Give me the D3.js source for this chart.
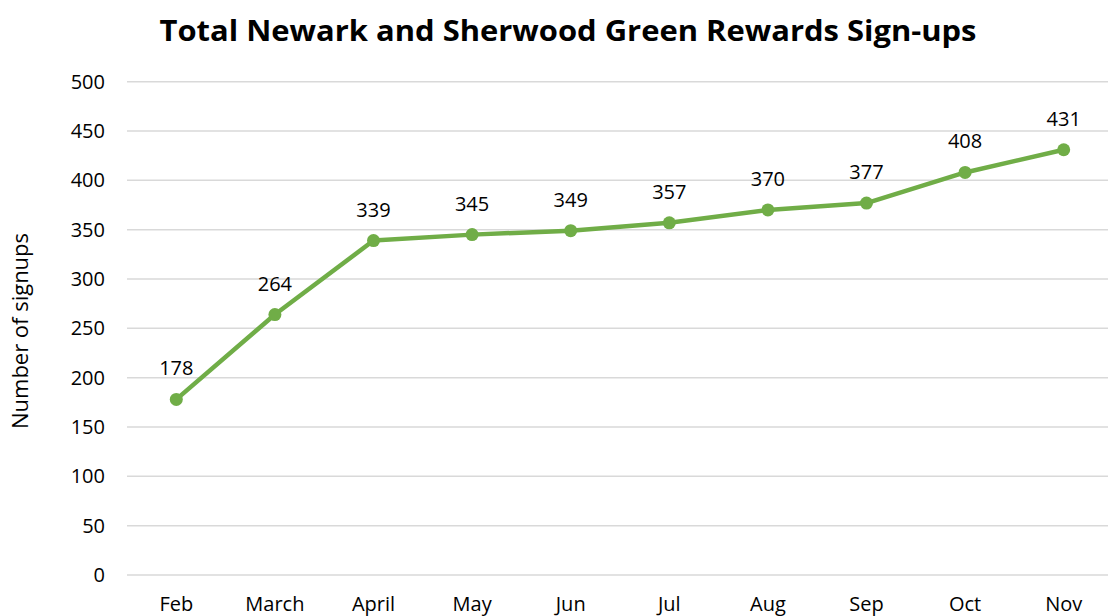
<!DOCTYPE html>
<html>
<head>
<meta charset="utf-8">
<script src="https://cdn.jsdelivr.net/npm/d3@7"></script>
<style>
  body { margin: 0; background: #fff; }
  text { font-family: "Open Sans", "Noto Sans", sans-serif; }
</style>
</head>
<body>
<div id="chart"></div>
<script>
// data
const months = ["Feb", "March", "April", "May", "Jun", "Jul", "Aug", "Sep", "Oct", "Nov"];
const signups = [178, 264, 339, 345, 349, 357, 370, 377, 408, 431];
const yTicks = [0, 50, 100, 150, 200, 250, 300, 350, 400, 450, 500];

const W = 1108, H = 616;
const plot = { left: 127, right: 1113, top: 81.7, bottom: 575 };

const svg = d3.select("#chart")
  .append("svg")
  .attr("width", W)
  .attr("height", H);

// title
svg.append("text")
  .attr("x", 568)
  .attr("y", 41)
  .attr("text-anchor", "middle")
  .attr("font-size", "29px")
  .attr("font-weight", "bold")
  .attr("textLength", 817)
  .attr("lengthAdjust", "spacingAndGlyphs")
  .text("Total Newark and Sherwood Green Rewards Sign-ups");

const x = d3.scaleBand()
  .domain(months)
  .range([plot.left, plot.right]);

const y = d3.scaleLinear()
  .domain([0, 500])
  .range([plot.bottom, plot.top]);

// gridlines
svg.append("g")
  .selectAll("line")
  .data(yTicks)
  .join("line")
  .attr("x1", plot.left)
  .attr("x2", plot.right)
  .attr("y1", d => y(d))
  .attr("y2", d => y(d))
  .attr("stroke", "#d9d9d9")
  .attr("stroke-width", 1.5);

// y axis labels
const yAxis = svg.append("g")
  .attr("transform", `translate(${plot.left - 22},0)`)
  .call(d3.axisLeft(y).tickValues(yTicks).tickSize(0).tickPadding(0));
yAxis.select(".domain").remove();
yAxis.selectAll("text")
  .attr("font-size", "20px")
  .attr("fill", "#000")
  .attr("font-family", "Open Sans, sans-serif");

// x axis labels
const xAxis = svg.append("g")
  .attr("transform", `translate(0,${plot.bottom})`)
  .call(d3.axisBottom(x).tickSize(0).tickPadding(22));
xAxis.select(".domain").remove();
xAxis.selectAll("text")
  .attr("font-size", "20px")
  .attr("fill", "#000")
  .attr("font-family", "Open Sans, sans-serif");

// y axis title
svg.append("text")
  .attr("transform", `translate(28,331) rotate(-90)`)
  .attr("text-anchor", "middle")
  .attr("font-size", "21px")
  .attr("textLength", 196)
  .attr("lengthAdjust", "spacingAndGlyphs")
  .text("Number of signups");

const cx = d => x(d) + x.bandwidth() / 2;

// line
const line = d3.line()
  .x((d, i) => cx(months[i]))
  .y(d => y(d));

svg.append("path")
  .datum(signups)
  .attr("d", line)
  .attr("fill", "none")
  .attr("stroke", "#70ad47")
  .attr("stroke-width", 4.5)
  .attr("stroke-linejoin", "round");

// markers
svg.append("g")
  .selectAll("circle")
  .data(signups)
  .join("circle")
  .attr("cx", (d, i) => cx(months[i]))
  .attr("cy", d => y(d))
  .attr("r", 6.5)
  .attr("fill", "#70ad47");

// data labels
svg.append("g")
  .selectAll("text")
  .data(signups)
  .join("text")
  .attr("x", (d, i) => cx(months[i]))
  .attr("y", d => y(d) - 24)
  .attr("text-anchor", "middle")
  .attr("font-size", "20px")
  .text(d => d);
</script>
</body>
</html>
